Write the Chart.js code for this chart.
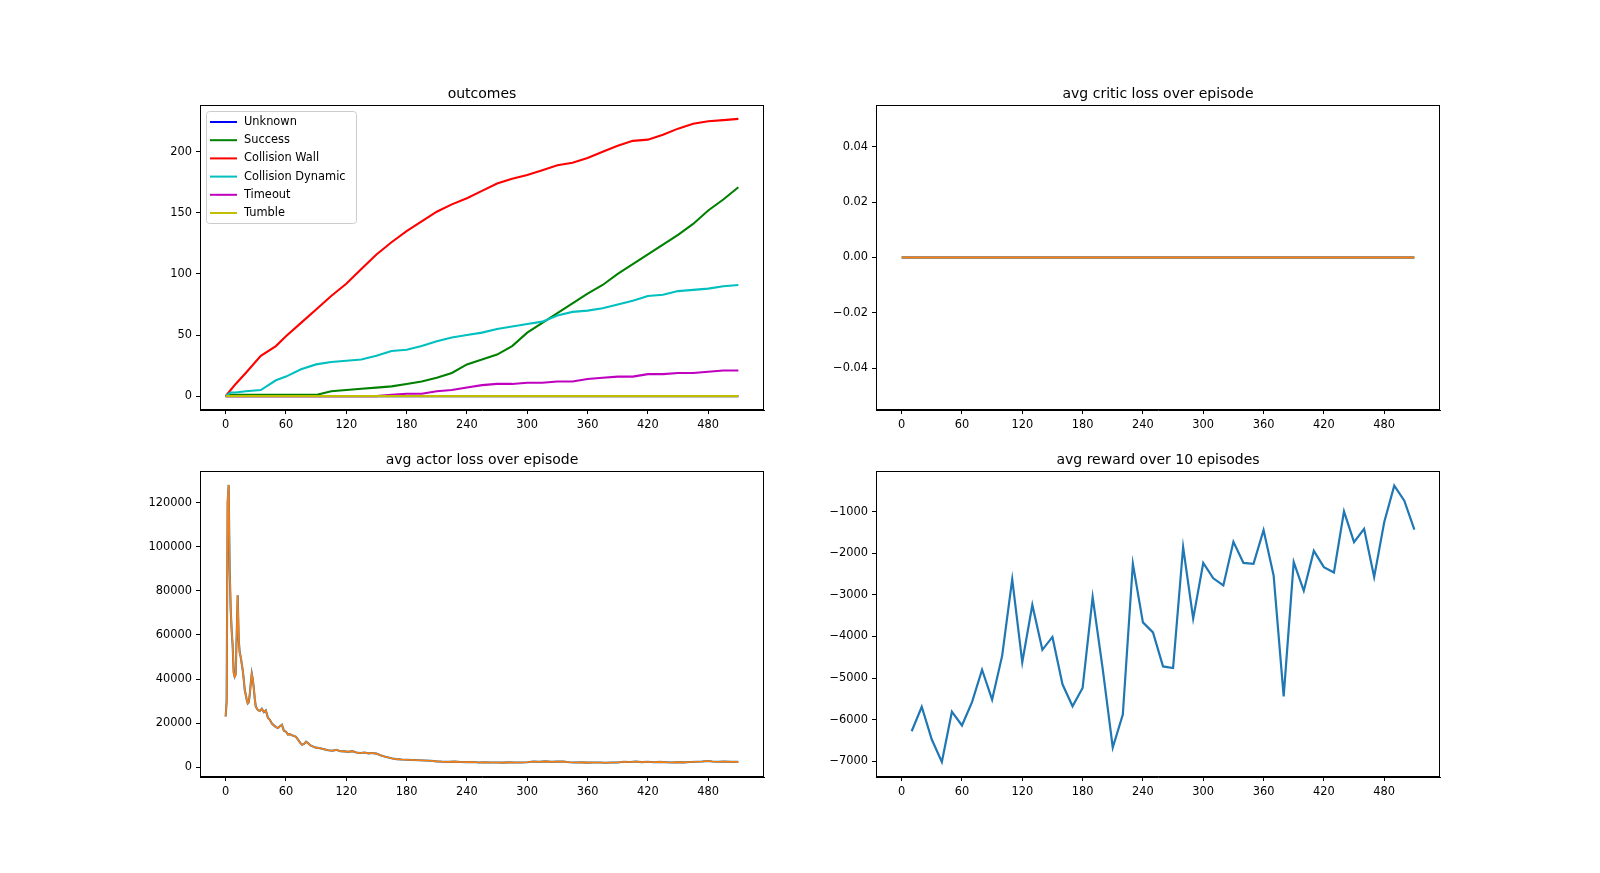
<!DOCTYPE html>
<html>
<head>
<meta charset="utf-8">
<script src="https://cdn.jsdelivr.net/npm/chart.js@4.4.1/dist/chart.umd.min.js"></script>
<style>
  body { margin: 0; background: #fff; width: 1600px; height: 873px; overflow: hidden; }
  canvas { position: absolute; }
</style>
</head>
<body>
<canvas id="outcomes"></canvas>
<canvas id="critic"></canvas>
<canvas id="actor"></canvas>
<canvas id="reward"></canvas>
<script>
// outcomes (cumulative counts per episode)
const outcomeX = [0, 5, 10, 20, 35, 50, 60, 75, 90, 105, 120, 135, 150, 165, 180, 195, 210, 225, 240, 255,
  270, 285, 300, 315, 330, 345, 360, 375, 390, 405, 420, 435, 450, 465, 480, 495, 510];
const unknown = [0, 0, 0, 0, 0, 0, 0, 0, 0, 0, 0, 0, 0, 0, 0, 0, 0, 0, 0, 0,
  0, 0, 0, 0, 0, 0, 0, 0, 0, 0, 0, 0, 0, 0, 0, 0, 0];
const success = [0, 1, 1, 1, 1, 1, 1, 1, 1, 4, 5, 6, 7, 8, 10, 12, 15, 19, 26, 30,
  34, 41, 52, 60, 68, 76, 84, 91, 100, 108, 116, 124, 132, 141, 152, 161, 171];
const collisionWall = [0, 5, 10, 19, 33, 41, 49, 60, 71, 82, 92, 104, 116, 126, 135, 143, 151, 157, 162, 168,
  174, 178, 181, 185, 189, 191, 195, 200, 205, 209, 210, 214, 219, 223, 225, 226, 227];
const collisionDynamic = [0, 3, 3, 4, 5, 13, 16, 22, 26, 28, 29, 30, 33, 37, 38, 41, 45, 48, 50, 52,
  55, 57, 59, 61, 66, 69, 70, 72, 75, 78, 82, 83, 86, 87, 88, 90, 91];
const timeout = [0, 0, 0, 0, 0, 0, 0, 0, 0, 0, 0, 0, 0, 1, 2, 2, 4, 5, 7, 9,
  10, 10, 11, 11, 12, 12, 14, 15, 16, 16, 18, 18, 19, 19, 20, 21, 21];
const tumble = [0, 0, 0, 0, 0, 0, 0, 0, 0, 0, 0, 0, 0, 0, 0, 0, 0, 0, 0, 0,
  0, 0, 0, 0, 0, 0, 0, 0, 0, 0, 0, 0, 0, 0, 0, 0, 0];
const outcomeLabels = ["Unknown", "Success", "Collision Wall", "Collision Dynamic", "Timeout", "Tumble"];
const outcomeColors = ["#0000ff", "#008000", "#ff0000", "#00bfbf", "#bf00bf", "#bfbf00"];

// critic loss
const criticX = [0, 100, 200, 300, 400, 510];
const criticLoss = [0, 0, 0, 0, 0, 0];

// actor loss
const actorX = [0, 1, 2, 3, 4, 5, 6, 7, 8, 9, 10, 11, 12, 13, 14, 15, 16, 17, 18, 19, 20, 21, 22, 23, 24, 25,
  26, 27, 28, 29, 30, 32, 34, 36, 38, 40, 42, 44, 46, 48, 50, 52, 54, 56, 58, 60, 62, 64, 66, 68, 70,
  72, 74, 76, 78, 80, 82, 84, 86, 88, 90, 94, 98, 102, 106, 110, 114, 118, 122, 126, 130, 134, 138,
  142, 146, 150, 154, 158, 162, 166, 170, 175, 180, 186, 192, 198, 204, 210, 216, 222, 228, 234, 240,
  246, 252, 258, 264, 270, 276, 282, 288, 294, 300, 306, 312, 318, 324, 330, 336, 342, 348, 354, 360,
  366, 372, 378, 384, 390, 396, 402, 408, 414, 420, 426, 432, 438, 444, 450, 456, 462, 468, 474, 480,
  484, 490, 496, 502, 510];
const actorLoss = [23000, 30000, 120000, 128000, 90000, 72000, 62000, 55000, 43000, 41000, 42000, 60000,
  78000, 58000, 52000, 50000, 47000, 44000, 40000, 35000, 33000, 30500, 29000, 29500, 33000, 38000,
  42500, 40000, 36000, 31000, 27500, 26000, 25500, 26500, 25000, 25800, 22500, 21500, 19800, 19000,
  18200, 17800, 18600, 19300, 16500, 16200, 14800, 15000, 14500, 14200, 13800, 12500, 11200, 10200,
  10600, 11600, 11000, 10000, 9600, 9200, 8900, 8600, 8200, 7700, 7500, 7900, 7300, 7200, 7000, 7300,
  6700, 6500, 6700, 6300, 6500, 6200, 5500, 4900, 4400, 4000, 3700, 3500, 3400, 3300, 3200, 3100,
  3000, 2700, 2500, 2450, 2550, 2400, 2350, 2400, 2150, 2250, 2150, 2200, 2100, 2250, 2150, 2200,
  2300, 2600, 2500, 2700, 2450, 2650, 2550, 2300, 2150, 2250, 2100, 2200, 2150, 2050, 2200, 2150,
  2500, 2400, 2600, 2350, 2500, 2300, 2450, 2300, 2200, 2350, 2250, 2400, 2500, 2600, 2850, 2600,
  2500, 2600, 2450, 2500];

// avg reward over 10 episodes
const rewardX = [10, 20, 30, 40, 50, 60, 70, 80, 90, 100, 110, 120, 130, 140, 150, 160, 170, 180, 190, 200,
  210, 220, 230, 240, 250, 260, 270, 280, 290, 300, 310, 320, 330, 340, 350, 360, 370, 380, 390, 400,
  410, 420, 430, 440, 450, 460, 470, 480, 490, 500, 510];
const reward = [-6280, -5690, -6480, -7020, -5810, -6140, -5580, -4800, -5520, -4460, -2620, -4620, -3240,
  -4320, -4010, -5150, -5680, -5240, -3050, -4780, -6670, -5880, -2250, -3660, -3900, -4720, -4760,
  -1850, -3570, -2230, -2600, -2770, -1720, -2230, -2250, -1440, -2530, -5440, -2210, -2900, -1940,
  -2330, -2460, -990, -1730, -1410, -2570, -1250, -370, -730, -1430];

// tick values
const episodeTicks = [0, 60, 120, 180, 240, 300, 360, 420, 480];
const outcomeTicks = [0, 50, 100, 150, 200];
const criticTicks = [-0.04, -0.02, 0, 0.02, 0.04];
const actorTicks = [0, 20000, 40000, 60000, 80000, 100000, 120000];
const rewardTicks = [-7000, -6000, -5000, -4000, -3000, -2000, -1000];

const FONT = "DejaVu Sans";
const PAD_SIDE = 80, PAD_T = 40, PAD_B = 30;

const toPts = (xs, ys) => xs.map((x, i) => ({ x: x, y: ys[i] }));
const minus = (s) => s.replace("-", "\u2212");

// full box around the plot area, like a matplotlib axes frame
const frame = {
  id: "frame",
  afterDraw(chart) {
    const { ctx, chartArea: a } = chart;
    ctx.save();
    ctx.strokeStyle = "#000";
    ctx.lineWidth = 1;
    ctx.strokeRect(Math.round(a.left) + 0.5, Math.round(a.top) + 0.5,
      Math.round(a.right - a.left) - 1, Math.round(a.bottom - a.top) - 1);
    ctx.restore();
  }
};

// title centred over the plot area (matplotlib places it over the axes, not the figure)
const axesTitle = {
  id: "axesTitle",
  afterDraw(chart, args, opts) {
    const { ctx, chartArea: a } = chart;
    ctx.save();
    ctx.font = `14px "${FONT}"`;
    ctx.fillStyle = "#000";
    ctx.textAlign = "center";
    ctx.textBaseline = "middle";
    ctx.fillText(opts.text, (a.left + a.right) / 2, a.top - 10.5);
    ctx.restore();
  }
};

// matplotlib-style legend in the upper left of the outcomes plot
const legendBox = {
  id: "legendBox",
  afterDatasetsDraw(chart, args, opts) {
    if (!opts.show) return;
    const { ctx, chartArea } = chart;
    const x0 = Math.round(chartArea.left) + 6, y0 = Math.round(chartArea.top) + 6;
    ctx.save();
    ctx.fillStyle = "rgba(255,255,255,0.8)";
    ctx.strokeStyle = "#cccccc";
    ctx.lineWidth = 1;
    ctx.beginPath();
    ctx.roundRect(x0 + 0.5, y0 + 0.5, 150, 112, 3);
    ctx.fill();
    ctx.stroke();
    ctx.font = `11.4px "${FONT}"`;
    ctx.textBaseline = "middle";
    chart.data.datasets.forEach((ds, i) => {
      const y = y0 + 11 + i * 18.2;
      ctx.strokeStyle = ds.borderColor;
      ctx.lineWidth = 2;
      ctx.beginPath();
      ctx.moveTo(x0 + 4, y);
      ctx.lineTo(x0 + 31, y);
      ctx.stroke();
      ctx.fillStyle = "#000";
      ctx.fillText(ds.label, x0 + 38, y);
    });
    ctx.restore();
  }
};

function axis(min, max, tickValues, fmt) {
  return {
    type: "linear",
    min: min,
    max: max,
    afterBuildTicks: (s) => { s.ticks = tickValues.map((v) => ({ value: v })); },
    grid: { drawOnChartArea: false, drawTicks: true, tickLength: 4, color: "#000", lineWidth: 1 },
    border: { display: true, color: "#000", width: 1 },
    ticks: {
      autoSkip: false,
      maxRotation: 0,
      padding: 4,
      color: "#000",
      font: { family: FONT, size: 11.4 },
      callback: fmt
    }
  };
}

function makeChart(id, box, title, datasets, yMin, yMax, yTicks, yFmt, showLegend) {
  const canvas = document.getElementById(id);
  canvas.width = box.w + 2 * PAD_SIDE;
  canvas.height = box.h + PAD_T + PAD_B;
  canvas.style.left = (box.left - PAD_SIDE) + "px";
  canvas.style.top = (box.top - PAD_T) + "px";

  const x = axis(-25.5, 535.5, episodeTicks, (v) => minus(String(v)));
  x.afterFit = (s) => { s.height = PAD_B; };
  const y = axis(yMin, yMax, yTicks, yFmt);
  y.afterFit = (s) => { s.width = PAD_SIDE; };

  return new Chart(canvas.getContext("2d"), {
    type: "line",
    data: { datasets: datasets },
    options: {
      responsive: false,
      animation: false,
      events: [],
      layout: { padding: { left: 0, right: PAD_SIDE, top: PAD_T, bottom: 0 } },
      elements: { point: { radius: 0 }, line: { tension: 0, borderWidth: 2.1, fill: false } },
      plugins: {
        legend: { display: false },
        tooltip: { enabled: false },
        title: { display: false },
        axesTitle: { text: title },
        legendBox: { show: showLegend }
      },
      scales: { x: x, y: y }
    },
    plugins: [frame, axesTitle, legendBox]
  });
}

const outcomeSeries = [unknown, success, collisionWall, collisionDynamic, timeout, tumble];
makeChart("outcomes", { left: 200, top: 105, w: 564, h: 305 }, "outcomes",
  outcomeSeries.map((s, i) => ({
    label: outcomeLabels[i],
    data: toPts(outcomeX, s),
    borderColor: outcomeColors[i],
    order: outcomeSeries.length - i
  })),
  -11.35, 238.35, outcomeTicks, (v) => minus(String(v)), true);

makeChart("critic", { left: 876, top: 105, w: 564, h: 305 }, "avg critic loss over episode", [
  { label: "critic", data: toPts(criticX, criticLoss), borderColor: "#1f77b4", borderWidth: 2.4, order: 2 },
  { label: "critic avg", data: toPts(criticX, criticLoss), borderColor: "#ff7f0e", order: 1 }
], -0.055, 0.055, criticTicks, (v) => minus(v.toFixed(2)), false);

makeChart("actor", { left: 200, top: 471, w: 564, h: 306 }, "avg actor loss over episode", [
  { label: "actor", data: toPts(actorX, actorLoss), borderColor: "#1f77b4", borderWidth: 2.1, order: 2 },
  { label: "actor avg", data: toPts(actorX, actorLoss), borderColor: "#ff7f0e", borderWidth: 1.6, order: 1 }
], -4400, 134300, actorTicks, (v) => minus(String(v)), false);

makeChart("reward", { left: 876, top: 471, w: 564, h: 306 }, "avg reward over 10 episodes", [
  { label: "reward", data: toPts(rewardX, reward), borderColor: "#1f77b4", borderWidth: 2.2 }
], -7381, -17, rewardTicks, (v) => minus(String(v)), false);
</script>
</body>
</html>
